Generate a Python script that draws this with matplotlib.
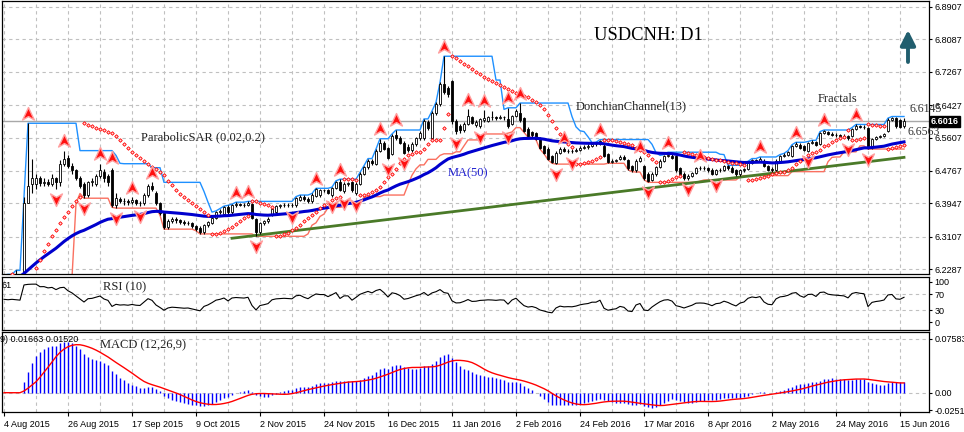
import numpy as np
import pandas as pd
import matplotlib
matplotlib.use("Agg")
import matplotlib.pyplot as plt
from matplotlib.path import Path
from matplotlib.transforms import blended_transform_factory

W, H = 964, 432

# daily bars, 4 Aug 2015 .. 16 Jun 2016
opens = [
    6.210, 6.211, 6.209, 6.212, 6.210, 6.212, 6.395, 6.445, 6.445, 6.460,
    6.447, 6.450, 6.444, 6.458, 6.448, 6.495, 6.510, 6.490, 6.478, 6.460,
    6.445, 6.415, 6.448, 6.445, 6.465, 6.475, 6.465, 6.480, 6.390, 6.405,
    6.400, 6.402, 6.398, 6.403, 6.397, 6.395, 6.415, 6.440, 6.420, 6.395,
    6.370, 6.335, 6.350, 6.356, 6.352, 6.348, 6.345, 6.346, 6.338, 6.334,
    6.322, 6.340, 6.346, 6.358, 6.372, 6.368, 6.385, 6.372, 6.390, 6.393,
    6.392, 6.391, 6.393, 6.355, 6.322, 6.345, 6.350, 6.366, 6.372, 6.388,
    6.390, 6.392, 6.391, 6.390, 6.404, 6.412, 6.405, 6.400, 6.413, 6.415,
    6.428, 6.428, 6.415, 6.433, 6.448, 6.425, 6.445, 6.448, 6.420, 6.445,
    6.470, 6.486, 6.503, 6.495, 6.528, 6.548, 6.535, 6.520, 6.568, 6.560,
    6.548, 6.538, 6.530, 6.545, 6.560, 6.560, 6.600, 6.560, 6.623, 6.646,
    6.696, 6.686, 6.703, 6.603, 6.590, 6.580, 6.596, 6.612, 6.592, 6.590,
    6.605, 6.603, 6.613, 6.612, 6.610, 6.613, 6.608, 6.596, 6.616, 6.623,
    6.610, 6.583, 6.575, 6.573, 6.560, 6.540, 6.533, 6.515, 6.498, 6.523,
    6.533, 6.527, 6.528, 6.527, 6.530, 6.535, 6.536, 6.540, 6.545, 6.545,
    6.540, 6.520, 6.500, 6.503, 6.508, 6.513, 6.505, 6.490, 6.478, 6.503,
    6.490, 6.470, 6.455, 6.468, 6.486, 6.503, 6.515, 6.515, 6.515, 6.483,
    6.470, 6.458, 6.465, 6.472, 6.483, 6.484, 6.483, 6.480, 6.470, 6.478,
    6.480, 6.488, 6.485, 6.478, 6.468, 6.478, 6.482, 6.498, 6.505, 6.503,
    6.503, 6.488, 6.482, 6.478, 6.503, 6.515, 6.518, 6.515, 6.540, 6.543,
    6.540, 6.528, 6.548, 6.550, 6.545, 6.573, 6.574, 6.570, 6.568, 6.567,
    6.566, 6.565, 6.565, 6.583, 6.590, 6.588, 6.585, 6.536, 6.557, 6.562,
    6.565, 6.578, 6.606, 6.610, 6.605, 6.590,
]
highs = [
    6.214, 6.216, 6.214, 6.226, 6.218, 6.410, 6.597, 6.508, 6.470, 6.465,
    6.458, 6.456, 6.470, 6.462, 6.505, 6.528, 6.516, 6.496, 6.482, 6.463,
    6.450, 6.452, 6.460, 6.470, 6.495, 6.482, 6.470, 6.485, 6.420, 6.410,
    6.408, 6.406, 6.410, 6.406, 6.402, 6.420, 6.445, 6.448, 6.425, 6.398,
    6.373, 6.355, 6.360, 6.360, 6.356, 6.352, 6.350, 6.349, 6.341, 6.337,
    6.344, 6.350, 6.362, 6.376, 6.382, 6.388, 6.390, 6.393, 6.398, 6.397,
    6.396, 6.400, 6.396, 6.358, 6.348, 6.354, 6.360, 6.385, 6.392, 6.394,
    6.395, 6.396, 6.395, 6.412, 6.416, 6.416, 6.410, 6.420, 6.433, 6.432,
    6.432, 6.432, 6.436, 6.452, 6.456, 6.448, 6.450, 6.452, 6.448, 6.473,
    6.490, 6.508, 6.508, 6.532, 6.558, 6.552, 6.538, 6.570, 6.580, 6.565,
    6.552, 6.545, 6.550, 6.563, 6.578, 6.608, 6.605, 6.628, 6.650, 6.700,
    6.766, 6.692, 6.706, 6.608, 6.596, 6.600, 6.632, 6.616, 6.604, 6.610,
    6.630, 6.616, 6.628, 6.615, 6.618, 6.616, 6.636, 6.618, 6.632, 6.648,
    6.614, 6.588, 6.578, 6.576, 6.563, 6.543, 6.536, 6.518, 6.526, 6.536,
    6.537, 6.532, 6.531, 6.534, 6.539, 6.541, 6.544, 6.548, 6.549, 6.556,
    6.544, 6.523, 6.506, 6.508, 6.516, 6.516, 6.508, 6.493, 6.506, 6.514,
    6.493, 6.473, 6.474, 6.489, 6.506, 6.518, 6.524, 6.519, 6.518, 6.486,
    6.473, 6.468, 6.475, 6.486, 6.490, 6.488, 6.486, 6.483, 6.481, 6.484,
    6.491, 6.491, 6.488, 6.481, 6.481, 6.485, 6.501, 6.508, 6.508, 6.512,
    6.506, 6.491, 6.486, 6.506, 6.518, 6.521, 6.528, 6.543, 6.549, 6.546,
    6.543, 6.551, 6.554, 6.553, 6.576, 6.580, 6.578, 6.574, 6.572, 6.570,
    6.570, 6.568, 6.586, 6.594, 6.593, 6.592, 6.588, 6.560, 6.565, 6.568,
    6.573, 6.610, 6.614, 6.614, 6.608, 6.610,
]
lows = [
    6.206, 6.207, 6.205, 6.208, 6.206, 6.208, 6.395, 6.420, 6.430, 6.438,
    6.440, 6.438, 6.440, 6.430, 6.440, 6.488, 6.485, 6.470, 6.455, 6.435,
    6.408, 6.410, 6.440, 6.440, 6.458, 6.450, 6.440, 6.385, 6.383, 6.395,
    6.392, 6.390, 6.394, 6.390, 6.388, 6.392, 6.412, 6.425, 6.390, 6.365,
    6.330, 6.330, 6.345, 6.345, 6.342, 6.340, 6.340, 6.334, 6.326, 6.318,
    6.318, 6.336, 6.343, 6.355, 6.368, 6.364, 6.368, 6.368, 6.386, 6.388,
    6.387, 6.388, 6.355, 6.312, 6.318, 6.340, 6.346, 6.362, 6.368, 6.384,
    6.386, 6.386, 6.385, 6.387, 6.400, 6.400, 6.396, 6.396, 6.410, 6.412,
    6.424, 6.418, 6.412, 6.430, 6.425, 6.420, 6.440, 6.424, 6.416, 6.442,
    6.466, 6.482, 6.492, 6.492, 6.525, 6.530, 6.506, 6.516, 6.555, 6.545,
    6.520, 6.525, 6.525, 6.540, 6.555, 6.555, 6.580, 6.555, 6.618, 6.640,
    6.670, 6.662, 6.596, 6.570, 6.572, 6.575, 6.592, 6.594, 6.588, 6.586,
    6.600, 6.600, 6.606, 6.604, 6.607, 6.606, 6.586, 6.592, 6.612, 6.600,
    6.574, 6.562, 6.563, 6.555, 6.532, 6.520, 6.505, 6.496, 6.494, 6.520,
    6.524, 6.523, 6.522, 6.524, 6.527, 6.532, 6.533, 6.537, 6.540, 6.542,
    6.512, 6.496, 6.496, 6.499, 6.504, 6.504, 6.480, 6.475, 6.474, 6.500,
    6.455, 6.448, 6.451, 6.465, 6.483, 6.500, 6.512, 6.506, 6.475, 6.467,
    6.455, 6.454, 6.462, 6.469, 6.480, 6.479, 6.475, 6.467, 6.466, 6.475,
    6.477, 6.480, 6.472, 6.465, 6.465, 6.475, 6.479, 6.495, 6.500, 6.500,
    6.487, 6.477, 6.475, 6.475, 6.500, 6.511, 6.514, 6.512, 6.537, 6.532,
    6.527, 6.525, 6.545, 6.540, 6.542, 6.570, 6.567, 6.565, 6.563, 6.562,
    6.562, 6.556, 6.562, 6.580, 6.584, 6.583, 6.532, 6.533, 6.554, 6.559,
    6.562, 6.575, 6.603, 6.585, 6.584, 6.585,
]
closes = [
    6.211, 6.209, 6.212, 6.210, 6.212, 6.395, 6.440, 6.458, 6.460, 6.447,
    6.450, 6.444, 6.458, 6.448, 6.495, 6.508, 6.490, 6.478, 6.460, 6.440,
    6.415, 6.448, 6.452, 6.465, 6.478, 6.458, 6.448, 6.390, 6.408, 6.400,
    6.402, 6.398, 6.403, 6.397, 6.395, 6.415, 6.440, 6.430, 6.395, 6.370,
    6.335, 6.350, 6.355, 6.352, 6.348, 6.345, 6.346, 6.338, 6.330, 6.322,
    6.340, 6.347, 6.358, 6.372, 6.377, 6.385, 6.372, 6.390, 6.393, 6.392,
    6.391, 6.395, 6.358, 6.322, 6.345, 6.350, 6.356, 6.381, 6.388, 6.390,
    6.392, 6.391, 6.390, 6.408, 6.412, 6.405, 6.400, 6.415, 6.430, 6.428,
    6.428, 6.422, 6.433, 6.448, 6.428, 6.445, 6.445, 6.428, 6.445, 6.470,
    6.486, 6.503, 6.497, 6.528, 6.548, 6.533, 6.510, 6.565, 6.560, 6.548,
    6.523, 6.530, 6.545, 6.560, 6.573, 6.603, 6.585, 6.623, 6.646, 6.696,
    6.675, 6.670, 6.603, 6.578, 6.580, 6.595, 6.616, 6.598, 6.600, 6.608,
    6.610, 6.613, 6.612, 6.610, 6.613, 6.612, 6.590, 6.615, 6.628, 6.605,
    6.578, 6.565, 6.568, 6.558, 6.535, 6.523, 6.508, 6.500, 6.523, 6.533,
    6.527, 6.528, 6.527, 6.530, 6.535, 6.538, 6.540, 6.545, 6.545, 6.552,
    6.515, 6.500, 6.503, 6.505, 6.513, 6.508, 6.483, 6.478, 6.503, 6.510,
    6.458, 6.452, 6.470, 6.486, 6.503, 6.515, 6.518, 6.510, 6.478, 6.470,
    6.458, 6.465, 6.472, 6.483, 6.484, 6.483, 6.478, 6.470, 6.478, 6.480,
    6.488, 6.483, 6.475, 6.468, 6.478, 6.482, 6.498, 6.505, 6.503, 6.508,
    6.490, 6.480, 6.478, 6.503, 6.515, 6.518, 6.525, 6.540, 6.545, 6.535,
    6.530, 6.548, 6.550, 6.543, 6.573, 6.577, 6.570, 6.568, 6.567, 6.566,
    6.565, 6.560, 6.583, 6.590, 6.588, 6.587, 6.536, 6.557, 6.562, 6.565,
    6.570, 6.606, 6.610, 6.590, 6.588, 6.6016,
]
# RSI of the first bars (history before the window)
rsi_start = [57, 56, 57, 56, 55]

date_bars = [0, 16, 32, 48, 64, 80, 96, 112, 128, 144, 160, 176, 192, 208, 224]
date_labels = ["4 Aug 2015", "26 Aug 2015", "17 Sep 2015", "9 Oct 2015",
               "2 Nov 2015", "24 Nov 2015", "16 Dec 2015", "11 Jan 2016",
               "2 Feb 2016", "24 Feb 2016", "17 Mar 2016", "8 Apr 2016",
               "2 May 2016", "24 May 2016", "15 Jun 2016"]
price_ticks = [6.8907, 6.8087, 6.7267, 6.6427, 6.5607, 6.4767, 6.3947, 6.3107, 6.2287]
rsi_ticks = [100, 70, 30, 0]
macd_ticks = [0.07583, 0.0, -0.02517]
macd_tick_labels = ["0.07583", "0.00", "-0.02517"]
trend_bars = [57, 225]
trend_prices = [6.307, 6.511]
last_price = 6.6016

o = np.array(opens)
hi = np.array(highs)
lo = np.array(lows)
c = np.array(closes)
n = len(c)
x = np.arange(n)

# indicators
cs = pd.Series(c)
ma50 = cs.ewm(span=50, adjust=False).mean()
don_up = pd.Series(hi).rolling(13, min_periods=1).max()
don_dn = pd.Series(lo).rolling(13, min_periods=1).min()


def parabolic_sar(h, l, step=0.02, amax=0.2):
    sar = np.zeros(len(h))
    up = True
    af = step
    ep = h[0]
    sar[0] = l[0]
    for i in range(1, len(h)):
        s = sar[i - 1] + af * (ep - sar[i - 1])
        if up:
            s = min(s, l[i - 1], l[max(i - 2, 0)])
            if l[i] < s:
                up, s, ep, af = False, ep, l[i], step
            elif h[i] > ep:
                ep, af = h[i], min(af + step, amax)
        else:
            s = max(s, h[i - 1], h[max(i - 2, 0)])
            if h[i] > s:
                up, s, ep, af = True, ep, h[i], step
            elif l[i] < ep:
                ep, af = l[i], min(af + step, amax)
        sar[i] = s
    return sar


sar = parabolic_sar(hi, lo)

d = cs.diff()
gain = d.clip(lower=0).ewm(alpha=0.1, adjust=False).mean()
loss = (-d.clip(upper=0)).ewm(alpha=0.1, adjust=False).mean()
rsi = (100 - 100 / (1 + gain / loss)).fillna(50)
rsi.iloc[:len(rsi_start)] = rsi_start

macd = cs.ewm(span=12, adjust=False).mean() - cs.ewm(span=26, adjust=False).mean()
signal = macd.rolling(9, min_periods=1).mean()

frac_up = [i for i in range(2, n - 2) if hi[i] > max(hi[i - 2], hi[i - 1], hi[i + 1], hi[i + 2])]
frac_dn = [i for i in range(2, n - 2) if lo[i] < min(lo[i - 2], lo[i - 1], lo[i + 1], lo[i + 2])]

# ---- figure ----
plt.rcParams['font.family'] = ['Liberation Sans', 'DejaVu Sans']
fig = plt.figure(figsize=(W / 100, H / 100), dpi=100)
fig.patch.set_facecolor('white')


def box(top, bottom):
    return [2 / W, 1 - bottom / H, 927 / W, (bottom - top) / H]


ax = fig.add_axes(box(1, 274))
ar = fig.add_axes(box(277, 330))
am = fig.add_axes(box(332, 412))

grid_kw = dict(color='#C0C0C0', lw=0.8, ls=(0, (3, 3)), zorder=0)
for a in (ax, ar, am):
    a.set_xlim(-0.5, 231.25)
    for v in range(0, 232, 8):
        a.axvline(v, **grid_kw)
    for s in a.spines.values():
        s.set_color('black')
        s.set_linewidth(0.9)
    a.yaxis.tick_right()
    a.tick_params(axis='y', length=2.5, width=0.8, pad=1.5, labelsize=6.5)
    a.tick_params(axis='x', labelbottom=False, length=0)

# main price panel
ax.set_ylim(6.2169, 6.9053)
for p in price_ticks:
    ax.axhline(p, **grid_kw)
ax.set_yticks(price_ticks)
ax.set_yticklabels([f"{p:.4f}" for p in price_ticks])
ax.axhline(last_price, color='#A8A8A8', lw=1, zorder=1)

ax.plot(x, don_up, color='#1E90FF', lw=1, zorder=2)
ax.plot(x, don_dn, color='#FA7060', lw=1, zorder=2)
ax.plot(trend_bars, trend_prices, color='#4A7A28', lw=2, zorder=2)

ax.vlines(x, lo, hi, color='black', lw=0.8, zorder=3)
body_lo = np.minimum(o, c)
body_h = np.maximum(np.abs(c - o), 0.0008)
ax.bar(x, body_h, bottom=body_lo, width=0.7,
       color=np.where(c >= o, 'white', 'black'), edgecolor='black', lw=0.6, zorder=4)

ax.plot(x, ma50, color='#0000CD', lw=2.2, zorder=5)
ax.plot(x, sar, ls='none', marker='D', ms=1.8, mfc='#FFD8D8', mec='#FF0000', mew=0.6, zorder=6)

up_verts = [(0, 1), (0.85, -0.8), (0, -0.3), (-0.85, -0.8), (0, 1)]
codes = [Path.MOVETO, Path.LINETO, Path.LINETO, Path.LINETO, Path.CLOSEPOLY]
up_marker = Path(up_verts, codes)
dn_marker = Path([(vx, -vy) for vx, vy in up_verts], codes)
ax.plot(frac_up, hi[frac_up] + 0.024, ls='none', marker=up_marker, ms=10,
        mfc='#FF1010', mec='#FFA0A0', mew=1.0, zorder=7)
ax.plot(frac_dn, lo[frac_dn] - 0.024, ls='none', marker=dn_marker, ms=10,
        mfc='#FF1010', mec='#FFA0A0', mew=1.0, zorder=7)

tr = blended_transform_factory(fig.transFigure, ax.transData)
ax.text(931 / W, last_price, "6.6016", transform=tr, color='white', fontsize=6.5,
        fontweight='bold', va='center', ha='left', clip_on=False,
        bbox=dict(boxstyle='square,pad=0.15', fc='black', ec='black'), zorder=10)

# RSI panel
ar.set_ylim(-19.1, 112.4)
for v in (70, 30):
    ar.axhline(v, **grid_kw)
ar.set_yticks(rsi_ticks)
ar.set_yticklabels([str(v) for v in rsi_ticks])
ar.plot(x, rsi, color='black', lw=0.8, zorder=3)

# MACD panel
am.set_ylim(-0.0273, 0.0857)
for v in (0.0, 0.07583):
    am.axhline(v, **grid_kw)
am.set_yticks(macd_ticks)
am.set_yticklabels(macd_tick_labels)
am.vlines(x, 0, macd, color='#0000FF', lw=1, zorder=3)
am.plot(x, signal, color='#FF0000', lw=1, zorder=4)
am.set_xticks(date_bars)
am.set_xticklabels(date_labels, ha='left')
am.tick_params(axis='x', labelbottom=True, length=3, width=0.8, pad=3, labelsize=6.5)


def ftext(px, py, s, **kw):
    fig.text(px / W, 1 - py / H, s, va='center', ha='left', **kw)


serif = ['Liberation Serif', 'DejaVu Serif']
ftext(594, 36, "USDCNH: D1", family=serif, fontsize=13.3, color='black')
ftext(141, 137, "ParabolicSAR (0.02,0.2)", family=serif, fontsize=9, color='#202020')
ftext(576, 106, "DonchianChannel(13)", family=serif, fontsize=9, color='#202020')
ftext(448, 173, "MA(50)", family=serif, fontsize=9, color='#2020D0')
ftext(818, 99, "Fractals", family=serif, fontsize=9, color='#202020')
ftext(910, 109, "6.6145", family=serif, fontsize=8.5, color='#333333')
ftext(908, 132, "6.6563", family=serif, fontsize=8.5, color='#333333')
ftext(103, 287, "RSI (10)", family=serif, fontsize=9, color='#202020')
ftext(100, 345, "MACD (12,26,9)", family=serif, fontsize=9, color='#202020')
ftext(1, 285, "61", fontsize=6.5, color='black')
ftext(0, 340, "9) 0.01663 0.01520", fontsize=6.5, color='black')

ax.annotate('', xy=(908, H - 30), xytext=(908, H - 62), xycoords='figure pixels',
            textcoords='figure pixels', annotation_clip=False,
            arrowprops=dict(arrowstyle='-|>,head_length=0.9,head_width=0.45',
                            color='#215E6E', lw=2.8, shrinkA=0, shrinkB=0))

fig.savefig("out.png", dpi=100)
